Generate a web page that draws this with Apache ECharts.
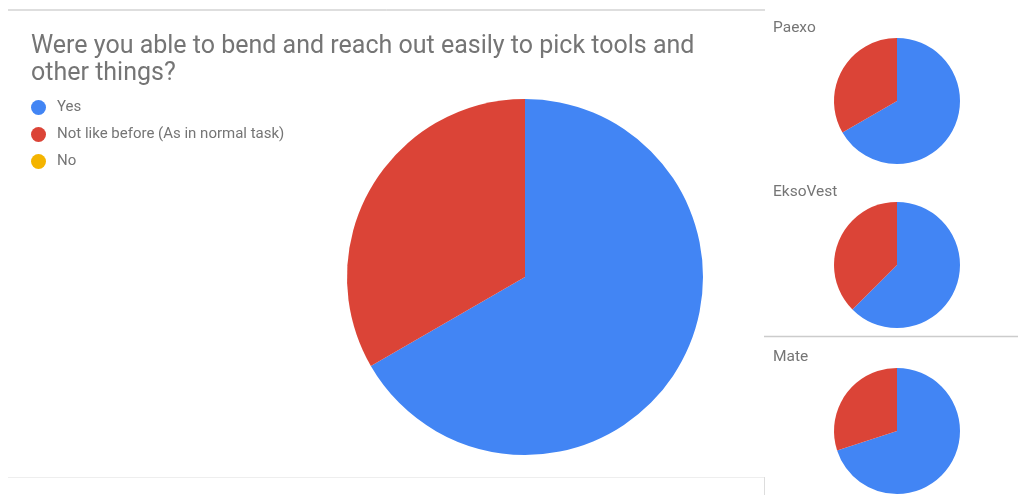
<!DOCTYPE html>
<html>
<head>
<meta charset="utf-8">
<script src="https://cdn.jsdelivr.net/npm/echarts@6/dist/echarts.min.js"></script>
<style>
  html, body { margin: 0; padding: 0; background: #fff; }
  #main { width: 1018px; height: 495px; }
</style>
</head>
<body>
<div id="main"></div>
<script>
var answers = ['Yes', 'Not like before (As in normal task)', 'No'];
var colors = ['#4285f4', '#db4437', '#f4b400'];
var paexo = [6, 3, 0];
var eksoVest = [5, 3, 0];
var mate = [7, 3, 0];
// overall = sum of the three suits
var overall = answers.map(function (a, i) { return paexo[i] + eksoVest[i] + mate[i]; });

function toData(vals) {
    return vals.map(function (v, i) {
        return { name: answers[i], value: v, itemStyle: { color: colors[i] } };
    });
}

function pie(vals, center, radius) {
    return {
        type: 'pie',
        center: center,
        radius: radius,
        startAngle: 90,
        label: { show: false },
        labelLine: { show: false },
        emphasis: { disabled: true },
        itemStyle: { borderWidth: 0 },
        data: toData(vals)
    };
}

var chartDom = document.getElementById('main');
var myChart = echarts.init(chartDom);
var option;

var smallTitle = { fontFamily: 'Roboto', fontSize: 15.5, fontWeight: 'normal', color: '#757575' };

option = {
    animation: false,
    title: [
        {
            text: 'Were you able to bend and reach out easily to pick tools and\nother things?',
            left: 26, top: 28,
            textStyle: { fontFamily: 'Roboto', fontSize: 25, fontWeight: 'normal', color: '#757575', lineHeight: 27 }
        },
        { text: 'Paexo', left: 768, top: 15, textStyle: smallTitle },
        { text: 'EksoVest', left: 768, top: 179, textStyle: smallTitle },
        { text: 'Mate', left: 768, top: 344, textStyle: smallTitle }
    ],
    legend: {
        orient: 'vertical',
        left: 26, top: 95,
        icon: 'circle',
        itemWidth: 15, itemHeight: 15,
        itemGap: 12,
        selectedMode: false,
        textStyle: { fontFamily: 'Roboto', fontSize: 15, color: '#757575', padding: [0, 0, 0, 6] },
        data: answers
    },
    graphic: [
        { type: 'line', shape: { x1: 8, y1: 10, x2: 765, y2: 10 }, style: { stroke: '#bdbdbd', lineWidth: 1 } },
        { type: 'line', shape: { x1: 8, y1: 477.5, x2: 764, y2: 477.5 }, style: { stroke: '#eeeeee', lineWidth: 1 } },
        { type: 'line', shape: { x1: 764.5, y1: 477, x2: 764.5, y2: 495 }, style: { stroke: '#dddddd', lineWidth: 1 } },
        { type: 'line', shape: { x1: 764, y1: 336.5, x2: 1018, y2: 336.5 }, style: { stroke: '#cccccc', lineWidth: 1.5 } }
    ],
    series: [
        pie(overall, [525, 277], 178),
        pie(paexo, [897, 101], 63),
        pie(eksoVest, [897, 265], 63),
        pie(mate, [897, 431], 63)
    ]
};

option && myChart.setOption(option);
</script>
</body>
</html>
